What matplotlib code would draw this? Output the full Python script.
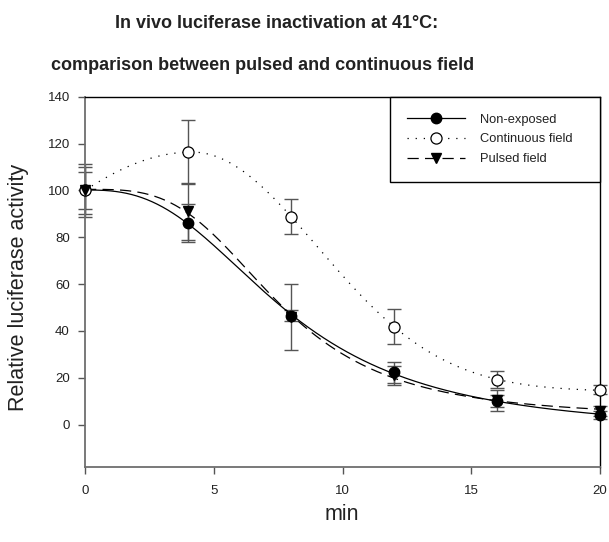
import numpy as np
import matplotlib
matplotlib.use('Agg')
import matplotlib.pyplot as plt
from matplotlib.lines import Line2D

plt.rcParams['font.family'] = ['Liberation Sans', 'DejaVu Sans']

# data (means +/- error)
minutes = [0, 4, 8, 12, 16, 20]
non_exposed = [100, 86.1, 46.5, 22.4, 10.0, 4.2]
non_exposed_err = [11.4, 8.2, 2.3, 4.5, 2.5, 1.8]
continuous = [100, 116.4, 88.8, 41.9, 19.1, 14.9]
continuous_err = [8.0, 13.8, 7.6, 7.5, 3.6, 2.0]
pulsed = [100, 91.0, 46.0, 21.0, 10.5, 5.8]
pulsed_err = [10.0, 12.0, 14.2, 4.0, 4.5, 2.0]
labels = ['Non-exposed', 'Continuous field', 'Pulsed field']

xs = np.linspace(0, 20, 400)


def linfit(g, y):
    # y ~ y0 + a*g, vectorised over the leading axes of g
    gm = g.mean(-1, keepdims=True)
    ym = y.mean()
    a = ((g - gm) * (y - ym)).sum(-1) / ((g - gm) ** 2).sum(-1)
    y0 = ym - a * gm[..., 0]
    err = ((y0[..., None] + a[..., None] * g - y) ** 2).sum(-1)
    return y0, a, err


# sigmoidal (Hill) decay: y0 + a / (1 + (x/x0)^b)
def fit_decay(x, y):
    x = np.asarray(x, float)
    y = np.asarray(y, float)
    x0 = np.arange(4, 14, 0.02)[:, None, None]
    b = np.arange(1.2, 8, 0.02)[None, :, None]
    g = 1 / (1 + (x / x0) ** b)
    y0, a, err = linfit(g, y)
    i, j = np.unravel_index(np.argmin(err), err.shape)
    return y0[i, j] + a[i, j] / (1 + (xs / x0[i, 0, 0]) ** b[0, j, 0])


# peak (gaussian with different widths on each side) + offset
def fit_peak(x, y):
    x = np.asarray(x, float)
    y = np.asarray(y, float)
    best = None
    for mu in np.arange(3, 5.5, 0.02):
        sl = np.arange(2, 14, 0.05)[:, None, None]
        sr = np.arange(2, 12, 0.05)[None, :, None]
        s = np.where(x < mu, sl, sr)
        g = np.exp(-0.5 * ((x - mu) / s) ** 2)
        y0, a, err = linfit(g, y)
        i, j = np.unravel_index(np.argmin(err), err.shape)
        if best is None or err[i, j] < best[0]:
            best = (err[i, j], mu, sl[i, 0, 0], sr[0, j, 0], y0[i, j], a[i, j])
    _, mu, sl, sr, y0, a = best
    s = np.where(xs < mu, sl, sr)
    return y0 + a * np.exp(-0.5 * ((xs - mu) / s) ** 2)


fig = plt.figure(figsize=(6.09, 5.42), dpi=100)
ax = fig.add_axes([0.1396, 0.1378, 0.8456, 0.6838])

ecol = '#555555'
series = [
    (non_exposed, non_exposed_err, dict(ls='-'), dict(marker='o', mfc='black', mec='black', ms=7.5), fit_decay),
    (continuous, continuous_err, dict(ls=(0, (1, 5.5))), dict(marker='o', mfc='white', mec='black', ms=8, mew=0.9), fit_peak),
    (pulsed, pulsed_err, dict(ls=(0, (9, 5))), dict(marker='v', mfc='black', mec='black', ms=7.5), fit_decay),
]

handles = []
for (vals, errs, lstyle, mstyle, fitter), lab in zip(series, labels):
    eb = ax.errorbar(minutes, vals, yerr=errs, fmt='none', ecolor=ecol, elinewidth=1.0,
                     capsize=5, capthick=1.0, zorder=2)
    for art in eb.lines[1] + eb.lines[2]:
        art.set_clip_on(False)
    ax.plot(xs, fitter(minutes, vals), color='black', lw=0.9, zorder=3, **lstyle)
    ax.plot(minutes, vals, ls='none', zorder=4, clip_on=False, **mstyle)
    handles.append(Line2D([], [], color='black', lw=0.9, **lstyle, **mstyle))

ax.set_xlim(0, 20)
ax.set_ylim(-18.2, 140)
ax.set_xticks([0, 5, 10, 15, 20])
ax.set_yticks([0, 20, 40, 60, 80, 100, 120, 140])
ax.tick_params(direction='out', length=5, width=1, colors='#555555',
               labelcolor='#222222', labelsize=9.5, top=False, right=False)
ax.tick_params(axis='x', pad=8)
ax.tick_params(axis='y', pad=6)
for side in ['left', 'bottom']:
    ax.spines[side].set_color('#6e6e6e')
    ax.spines[side].set_linewidth(1.3)
for side in ['top', 'right']:
    ax.spines[side].set_color('black')
    ax.spines[side].set_linewidth(1.0)

leg = ax.legend(handles, labels, loc='upper right', bbox_to_anchor=(0.592, 0.0, 0.408, 1.0),
                mode='expand', borderaxespad=0, fontsize=9.3,
                handlelength=4.5, handletextpad=1.2, labelspacing=0.6,
                borderpad=1.3, fancybox=False, framealpha=1)
leg.get_frame().set_edgecolor('black')
leg.get_frame().set_linewidth(1.0)
for t in leg.get_texts():
    t.set_color('#222222')

fig.text(0.455, 0.957, 'In vivo luciferase inactivation at 41°C:', ha='center', va='center',
         fontsize=13, fontweight='bold', color='#222222')
fig.text(0.431, 0.880, 'comparison between pulsed and continuous field', ha='center', va='center',
         fontsize=13, fontweight='bold', color='#222222')
fig.text(0.562, 0.05, 'min', ha='center', va='center', fontsize=15.5, color='#222222')
fig.text(0.03, 0.47, 'Relative luciferase activity', ha='center', va='center',
         rotation=90, fontsize=15.5, color='#222222')

fig.savefig('out.png', dpi=100)
